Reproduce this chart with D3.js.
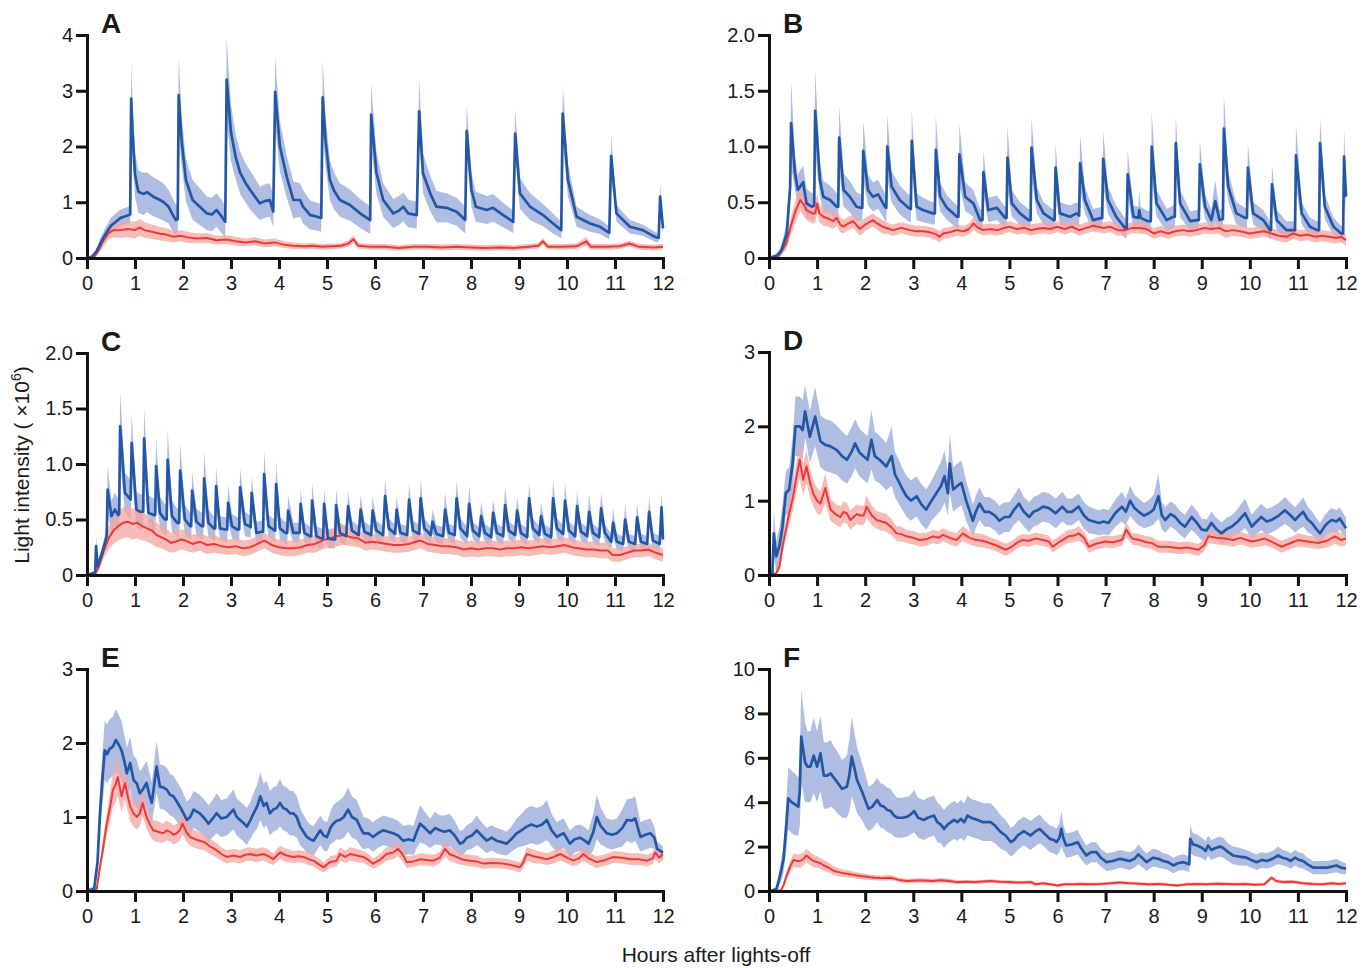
<!DOCTYPE html>
<html><head><meta charset="utf-8">
<script src="https://cdn.jsdelivr.net/npm/d3@7"></script>
<style>
body{margin:0;background:#fff;}
svg{display:block;font-family:"Liberation Sans",Arial,Helvetica,sans-serif;}
</style></head>
<body>
<svg id="chart" width="1369" height="968"></svg>
<script>
// ---------- DATA: [hour, mean, error half-width] ----------
const hours = [0,1,2,3,4,5,6,7,8,9,10,11,12];
const ticksA = [0,1,2,3,4];
const ticksB = [0,0.5,1,1.5,2];
const ticksC = [0,0.5,1,1.5,2];
const ticksD = [0,1,2,3];
const ticksE = [0,1,2,3];
const ticksF = [0,2,4,6,8,10];

const aBlue = [[0,0,0.02],[0.1,0.02,0.03],[0.2,0.12,0.06],[0.3,0.3,0.1],[0.4,0.45,0.12],[0.5,0.58,0.14],[0.6,0.65,0.15],[0.7,0.72,0.15],[0.8,0.75,0.15],[0.9,0.78,0.15],
[0.92,2.86,0.67],[0.95,2.25,0.5],[1.0,1.5,0.4],[1.07,1.19,0.38],[1.17,1.15,0.38],[1.25,1.18,0.36],[1.38,1.1,0.35],[1.5,1.05,0.34],[1.6,1.0,0.33],[1.7,0.92,0.3],[1.77,0.8,0.3],[1.85,0.68,0.28],[1.89,0.7,0.28],
[1.91,2.92,0.69],[1.97,2.12,0.45],[2.06,1.4,0.38],[2.2,1.04,0.36],[2.35,0.92,0.33],[2.5,0.8,0.3],[2.6,0.78,0.3],[2.7,0.86,0.3],[2.8,0.75,0.3],[2.88,0.65,0.28],
[2.91,3.2,0.75],[3.0,2.25,0.5],[3.1,1.8,0.4],[3.19,1.53,0.38],[3.3,1.35,0.35],[3.4,1.22,0.35],[3.5,1.1,0.33],[3.6,0.98,0.3],[3.7,1.02,0.3],[3.81,1.04,0.3],[3.88,0.83,0.28],
[3.92,2.98,0.61],[4.02,2.0,0.45],[4.16,1.46,0.38],[4.3,1.04,0.33],[4.44,1.04,0.3],[4.5,0.92,0.3],[4.65,0.77,0.26],[4.75,0.75,0.25],[4.88,0.72,0.25],
[4.91,2.88,0.65],[4.97,2.1,0.45],[5.06,1.4,0.36],[5.15,1.2,0.33],[5.27,1.04,0.3],[5.48,0.95,0.28],[5.69,0.8,0.26],[5.9,0.68,0.25],
[5.92,2.57,0.56],[6.03,1.53,0.38],[6.17,1.04,0.3],[6.38,0.8,0.26],[6.5,0.85,0.26],[6.59,0.92,0.26],[6.69,0.8,0.25],[6.87,0.77,0.24],
[6.92,2.63,0.57],[7.0,1.52,0.36],[7.15,1.16,0.32],[7.28,0.92,0.28],[7.49,0.9,0.26],[7.7,0.83,0.25],[7.88,0.68,0.24],
[7.91,2.28,0.47],[8.01,1.22,0.3],[8.1,0.92,0.27],[8.33,0.86,0.25],[8.46,0.9,0.25],[8.67,0.77,0.22],[8.88,0.65,0.2],
[8.92,2.23,0.44],[9.02,1.16,0.28],[9.23,0.92,0.24],[9.5,0.77,0.2],[9.71,0.62,0.18],[9.88,0.5,0.15],
[9.91,2.59,0.52],[10.02,1.4,0.3],[10.2,0.74,0.18],[10.48,0.62,0.15],[10.69,0.56,0.13],[10.88,0.45,0.12],
[10.92,1.83,0.36],[11.03,0.8,0.15],[11.31,0.56,0.12],[11.58,0.5,0.1],[11.83,0.38,0.09],[11.91,0.36,0.08],
[11.94,1.1,0.23],[12.0,0.53,0.1]];

const aRed = [[0,0,0.01],[0.15,0.02,0.02],[0.25,0.15,0.06],[0.35,0.32,0.1],[0.45,0.45,0.12],[0.55,0.5,0.13],[0.7,0.5,0.14],[0.85,0.52,0.15],[1.0,0.5,0.15],[1.1,0.55,0.15],[1.2,0.5,0.14],[1.35,0.47,0.13],[1.5,0.44,0.12],[1.65,0.42,0.12],[1.8,0.38,0.1],[1.95,0.4,0.1],[2.1,0.37,0.1],[2.3,0.35,0.09],[2.5,0.36,0.09],[2.7,0.32,0.08],[2.9,0.33,0.08],[3.1,0.3,0.08],[3.3,0.28,0.07],[3.5,0.3,0.07],[3.7,0.26,0.07],[3.9,0.28,0.07],[4.1,0.24,0.06],[4.3,0.22,0.06],[4.5,0.21,0.05],[4.7,0.22,0.05],[4.9,0.2,0.05],[5.1,0.21,0.05],[5.3,0.22,0.05],[5.45,0.26,0.06],[5.55,0.34,0.07],[5.65,0.22,0.05],[5.9,0.2,0.05],[6.2,0.2,0.05],[6.5,0.18,0.05],[6.8,0.2,0.05],[7.1,0.2,0.05],[7.4,0.19,0.05],[7.7,0.2,0.05],[8.0,0.19,0.05],[8.3,0.18,0.05],[8.6,0.19,0.05],[8.9,0.18,0.05],[9.2,0.2,0.05],[9.4,0.22,0.05],[9.5,0.3,0.06],[9.6,0.2,0.05],[9.9,0.2,0.05],[10.2,0.21,0.05],[10.4,0.3,0.08],[10.5,0.2,0.05],[10.8,0.2,0.05],[11.1,0.21,0.05],[11.3,0.26,0.05],[11.5,0.2,0.05],[11.8,0.19,0.05],[12.0,0.2,0.05]];

const bBlue = [[0,0,0.01],[0.16,0.02,0.02],[0.25,0.06,0.04],[0.37,0.22,0.1],[0.44,0.64,0.15],[0.46,1.21,0.38],[0.54,0.76,0.15],[0.6,0.61,0.14],[0.71,0.68,0.15],[0.78,0.49,0.13],[0.89,0.46,0.12],[0.94,0.47,0.12],
[0.96,1.32,0.37],[1.06,0.7,0.15],[1.13,0.55,0.14],[1.27,0.52,0.13],[1.41,0.46,0.12],[1.44,0.46,0.12],
[1.46,1.08,0.29],[1.55,0.61,0.15],[1.68,0.55,0.14],[1.82,0.46,0.13],[1.92,0.45,0.12],[1.94,0.45,0.12],
[1.96,0.96,0.27],[2.06,0.61,0.14],[2.16,0.55,0.13],[2.27,0.57,0.13],[2.41,0.46,0.12],[2.44,0.45,0.12],
[2.46,1.0,0.29],[2.55,0.64,0.14],[2.72,0.52,0.13],[2.9,0.45,0.12],[2.95,0.44,0.12],
[2.97,1.05,0.27],[3.07,0.46,0.12],[3.2,0.43,0.11],[3.41,0.4,0.1],[3.45,0.4,0.1],
[3.47,0.97,0.31],[3.56,0.55,0.13],[3.7,0.45,0.11],[3.91,0.37,0.1],[3.94,0.37,0.1],
[3.96,0.93,0.27],[4.08,0.55,0.13],[4.25,0.49,0.12],[4.39,0.34,0.1],[4.44,0.34,0.1],
[4.46,0.77,0.19],[4.56,0.43,0.11],[4.74,0.45,0.11],[4.91,0.36,0.1],[4.94,0.36,0.1],
[4.96,0.9,0.29],[5.05,0.49,0.12],[5.22,0.4,0.1],[5.4,0.34,0.1],[5.44,0.34,0.1],
[5.46,0.99,0.27],[5.57,0.52,0.12],[5.71,0.4,0.1],[5.92,0.34,0.09],[5.94,0.34,0.09],
[5.96,0.81,0.22],[6.05,0.4,0.1],[6.26,0.37,0.1],[6.4,0.4,0.1],[6.45,0.38,0.1],
[6.47,0.85,0.25],[6.57,0.52,0.12],[6.74,0.34,0.1],[6.92,0.36,0.1],[6.93,0.36,0.1],
[6.95,0.89,0.25],[7.05,0.52,0.12],[7.22,0.37,0.1],[7.4,0.27,0.09],[7.44,0.27,0.09],
[7.46,0.75,0.21],[7.58,0.37,0.1],[7.68,0.36,0.1],[7.7,0.43,0.17],[7.73,0.36,0.1],[7.88,0.33,0.09],[7.94,0.33,0.09],
[7.96,1.0,0.31],[8.06,0.49,0.12],[8.27,0.34,0.1],[8.41,0.37,0.1],[8.44,0.37,0.1],
[8.46,1.03,0.24],[8.55,0.49,0.12],[8.76,0.33,0.09],[8.9,0.34,0.09],[8.94,0.34,0.09],
[8.96,0.84,0.21],[9.07,0.46,0.11],[9.2,0.34,0.09],[9.28,0.51,0.19],[9.37,0.34,0.09],[9.44,0.35,0.09],
[9.46,1.16,0.31],[9.55,0.64,0.13],[9.72,0.4,0.1],[9.9,0.36,0.09],[9.94,0.36,0.09],
[9.96,0.81,0.22],[10.07,0.4,0.1],[10.28,0.34,0.09],[10.42,0.25,0.08],[10.44,0.25,0.08],
[10.46,0.66,0.17],[10.56,0.34,0.09],[10.76,0.25,0.08],[10.9,0.25,0.08],[10.94,0.25,0.08],
[10.96,0.92,0.28],[11.08,0.4,0.1],[11.25,0.28,0.08],[11.4,0.25,0.08],[11.44,0.25,0.08],
[11.46,1.03,0.23],[11.56,0.46,0.11],[11.74,0.28,0.08],[11.9,0.22,0.07],[11.94,0.22,0.07],
[11.96,0.91,0.26],[12.0,0.55,0.12]];

const bRed = [[0,0,0.01],[0.2,0.02,0.02],[0.35,0.12,0.05],[0.45,0.28,0.08],[0.55,0.42,0.1],[0.65,0.52,0.1],[0.72,0.48,0.1],[0.78,0.43,0.09],[0.9,0.4,0.09],[0.96,0.4,0.09],[1.0,0.49,0.09],[1.05,0.4,0.08],[1.13,0.37,0.08],[1.25,0.35,0.07],[1.33,0.33,0.07],[1.41,0.36,0.07],[1.48,0.3,0.07],[1.55,0.28,0.06],[1.65,0.31,0.06],[1.75,0.33,0.06],[1.89,0.26,0.06],[2.0,0.3,0.06],[2.16,0.34,0.06],[2.25,0.31,0.06],[2.37,0.28,0.06],[2.5,0.26,0.05],[2.58,0.25,0.05],[2.75,0.27,0.05],[2.93,0.25,0.05],[3.05,0.24,0.05],[3.2,0.24,0.05],[3.35,0.23,0.05],[3.48,0.21,0.05],[3.55,0.19,0.05],[3.62,0.22,0.05],[3.75,0.23,0.05],[3.9,0.25,0.05],[4.05,0.24,0.05],[4.16,0.26,0.05],[4.25,0.31,0.06],[4.35,0.27,0.05],[4.46,0.25,0.05],[4.6,0.26,0.05],[4.75,0.25,0.05],[4.9,0.27,0.05],[5.0,0.28,0.05],[5.15,0.26,0.05],[5.3,0.27,0.05],[5.45,0.25,0.05],[5.55,0.26,0.05],[5.7,0.27,0.05],[5.85,0.26,0.05],[6.0,0.28,0.05],[6.15,0.26,0.05],[6.3,0.28,0.05],[6.45,0.25,0.05],[6.6,0.27,0.05],[6.75,0.29,0.05],[6.95,0.27,0.05],[7.1,0.28,0.05],[7.25,0.25,0.05],[7.4,0.25,0.05],[7.55,0.27,0.05],[7.7,0.27,0.05],[7.85,0.26,0.05],[8.0,0.22,0.05],[8.15,0.24,0.05],[8.3,0.22,0.05],[8.45,0.24,0.05],[8.6,0.25,0.05],[8.75,0.24,0.05],[8.9,0.25,0.05],[9.05,0.27,0.05],[9.2,0.26,0.05],[9.35,0.27,0.05],[9.5,0.24,0.06],[9.65,0.25,0.05],[9.8,0.24,0.05],[10.0,0.22,0.05],[10.15,0.23,0.05],[10.3,0.24,0.05],[10.45,0.22,0.05],[10.6,0.2,0.05],[10.76,0.19,0.05],[10.9,0.22,0.05],[11.05,0.2,0.05],[11.2,0.21,0.05],[11.35,0.19,0.05],[11.5,0.2,0.05],[11.65,0.19,0.05],[11.8,0.18,0.05],[11.9,0.19,0.05],[12.0,0.16,0.05]];

const cBlue = [[0,0,0.01],[0.17,0.02,0.02],[0.19,0.26,0.1],[0.22,0.08,0.03],[0.3,0.18,0.05],[0.38,0.3,0.07],[0.41,0.35,0.08],
[0.43,0.77,0.21],[0.51,0.53,0.14],[0.58,0.59,0.15],[0.65,0.54,0.15],[0.67,0.55,0.15],
[0.69,1.34,0.31],[0.79,0.74,0.18],[0.85,0.71,0.18],[0.91,0.68,0.17],
[0.93,1.19,0.27],[1.03,0.59,0.16],[1.1,0.57,0.16],[1.17,0.57,0.16],
[1.19,1.23,0.27],[1.28,0.56,0.16],[1.39,0.54,0.15],[1.42,0.54,0.15],
[1.44,0.98,0.25],[1.52,0.56,0.15],[1.62,0.5,0.14],[1.66,0.5,0.14],
[1.68,1.04,0.27],[1.77,0.53,0.14],[1.88,0.47,0.13],[1.92,0.47,0.13],
[1.94,0.94,0.25],[2.04,0.5,0.13],[2.15,0.44,0.12],[2.17,0.44,0.12],
[2.19,0.76,0.17],[2.28,0.48,0.12],[2.39,0.44,0.12],[2.42,0.44,0.12],
[2.44,0.87,0.24],[2.53,0.47,0.12],[2.64,0.42,0.11],[2.67,0.42,0.11],
[2.69,0.8,0.18],[2.77,0.42,0.11],[2.88,0.41,0.11],[2.92,0.41,0.11],
[2.94,0.65,0.16],[3.02,0.44,0.11],[3.13,0.41,0.11],[3.17,0.41,0.1],
[3.19,0.79,0.17],[3.29,0.46,0.11],[3.38,0.44,0.1],[3.41,0.43,0.1],
[3.43,0.74,0.15],[3.53,0.38,0.1],[3.64,0.39,0.1],[3.67,0.39,0.1],
[3.69,0.91,0.21],[3.78,0.44,0.1],[3.88,0.41,0.1],[3.92,0.4,0.1],
[3.94,0.82,0.2],[4.02,0.42,0.1],[4.13,0.38,0.1],[4.17,0.38,0.1],
[4.19,0.58,0.14],[4.3,0.38,0.09],[4.4,0.38,0.09],[4.43,0.38,0.09],
[4.45,0.64,0.13],[4.53,0.38,0.09],[4.64,0.35,0.09],[4.67,0.35,0.09],
[4.69,0.67,0.16],[4.78,0.35,0.09],[4.88,0.33,0.09],[4.92,0.33,0.09],
[4.94,0.64,0.13],[5.02,0.33,0.09],[5.13,0.32,0.08],[5.17,0.32,0.08],
[5.19,0.63,0.14],[5.27,0.38,0.09],[5.4,0.35,0.08],
[5.44,0.62,0.13],[5.52,0.4,0.09],[5.66,0.36,0.08],
[5.7,0.59,0.13],[5.78,0.39,0.09],[5.92,0.36,0.08],
[5.95,0.58,0.13],[6.03,0.4,0.09],[6.17,0.36,0.08],
[6.21,0.71,0.15],[6.29,0.42,0.09],[6.42,0.37,0.08],
[6.45,0.59,0.12],[6.53,0.38,0.08],[6.67,0.36,0.08],
[6.71,0.68,0.15],[6.79,0.4,0.09],[6.92,0.37,0.08],
[6.95,0.69,0.17],[7.03,0.42,0.09],[7.16,0.36,0.08],
[7.2,0.48,0.11],[7.28,0.37,0.08],[7.42,0.35,0.08],
[7.46,0.59,0.15],[7.54,0.38,0.08],[7.66,0.36,0.08],
[7.7,0.69,0.16],[7.78,0.42,0.09],[7.92,0.35,0.08],
[7.96,0.64,0.16],[8.04,0.4,0.08],[8.17,0.35,0.08],
[8.21,0.53,0.13],[8.29,0.38,0.08],[8.42,0.34,0.08],
[8.46,0.56,0.12],[8.54,0.38,0.08],[8.67,0.35,0.08],
[8.71,0.63,0.16],[8.79,0.4,0.08],[8.92,0.36,0.08],
[8.96,0.58,0.13],[9.04,0.38,0.08],[9.17,0.34,0.08],
[9.21,0.69,0.14],[9.29,0.42,0.09],[9.42,0.36,0.08],
[9.46,0.53,0.12],[9.54,0.37,0.08],[9.67,0.34,0.08],
[9.71,0.69,0.16],[9.79,0.42,0.09],[9.92,0.37,0.08],
[9.96,0.67,0.15],[10.04,0.4,0.08],[10.17,0.35,0.08],
[10.21,0.62,0.14],[10.29,0.39,0.08],[10.42,0.35,0.08],
[10.46,0.57,0.15],[10.54,0.38,0.08],[10.67,0.34,0.08],
[10.71,0.6,0.14],[10.79,0.38,0.08],[10.92,0.3,0.07],
[10.96,0.47,0.13],[11.04,0.3,0.07],[11.17,0.28,0.07],
[11.21,0.5,0.13],[11.29,0.3,0.07],[11.42,0.28,0.07],
[11.46,0.52,0.12],[11.54,0.3,0.07],[11.67,0.28,0.07],
[11.71,0.57,0.14],[11.79,0.31,0.07],[11.93,0.28,0.07],
[11.97,0.61,0.14],[12.0,0.32,0.08]];

const cRed = [[0,0,0.01],[0.18,0.02,0.02],[0.25,0.08,0.04],[0.35,0.22,0.07],[0.45,0.33,0.1],[0.55,0.4,0.12],[0.65,0.44,0.13],[0.75,0.47,0.14],[0.85,0.48,0.14],[0.95,0.46,0.14],[1.05,0.47,0.14],[1.15,0.44,0.13],[1.25,0.42,0.12],[1.35,0.4,0.12],[1.45,0.36,0.11],[1.55,0.34,0.1],[1.65,0.32,0.1],[1.75,0.29,0.09],[1.85,0.3,0.09],[1.95,0.32,0.09],[2.05,0.31,0.09],[2.2,0.28,0.08],[2.35,0.3,0.08],[2.5,0.27,0.08],[2.65,0.28,0.08],[2.8,0.26,0.07],[2.95,0.25,0.07],[3.1,0.26,0.07],[3.25,0.24,0.07],[3.4,0.25,0.07],[3.55,0.28,0.07],[3.7,0.31,0.07],[3.85,0.27,0.07],[4.0,0.25,0.07],[4.15,0.24,0.07],[4.3,0.24,0.07],[4.45,0.25,0.07],[4.6,0.27,0.07],[4.75,0.28,0.08],[4.9,0.31,0.08],[5.05,0.33,0.08],[5.2,0.35,0.09],[5.35,0.36,0.09],[5.5,0.34,0.08],[5.65,0.33,0.08],[5.8,0.29,0.07],[5.95,0.3,0.07],[6.1,0.29,0.07],[6.25,0.28,0.07],[6.4,0.27,0.07],[6.55,0.27,0.07],[6.7,0.28,0.07],[6.85,0.3,0.07],[6.95,0.31,0.07],[7.1,0.28,0.07],[7.25,0.27,0.07],[7.4,0.26,0.07],[7.55,0.26,0.07],[7.7,0.25,0.07],[7.85,0.23,0.07],[8.0,0.24,0.07],[8.15,0.23,0.07],[8.3,0.24,0.07],[8.45,0.24,0.07],[8.6,0.23,0.07],[8.75,0.24,0.07],[8.9,0.24,0.07],[9.05,0.25,0.07],[9.2,0.24,0.07],[9.35,0.25,0.07],[9.5,0.26,0.07],[9.65,0.25,0.07],[9.8,0.26,0.07],[9.95,0.27,0.07],[10.1,0.25,0.07],[10.25,0.24,0.07],[10.4,0.23,0.07],[10.55,0.23,0.07],[10.7,0.22,0.07],[10.85,0.22,0.07],[10.95,0.18,0.06],[11.1,0.18,0.06],[11.25,0.2,0.06],[11.4,0.22,0.06],[11.55,0.22,0.06],[11.7,0.23,0.06],[11.85,0.2,0.06],[12.0,0.18,0.06]];

const dBlue = [[0,0,0.02],[0.07,0.02,0.05],[0.1,0.56,0.3],[0.15,0.25,0.2],[0.22,0.4,0.25],[0.28,0.65,0.3],[0.35,1.1,0.3],[0.42,1.15,0.3],[0.49,1.5,0.35],[0.55,2.0,0.4],[0.64,2.0,0.4],[0.7,1.95,0.4],[0.75,2.2,0.35],[0.85,1.86,0.35],[0.96,2.13,0.4],[1.07,1.8,0.35],[1.17,1.75,0.35],[1.28,1.73,0.35],[1.41,1.68,0.33],[1.52,1.6,0.33],[1.62,1.55,0.32],[1.72,1.66,0.33],[1.79,1.77,0.33],[1.88,1.65,0.32],[1.96,1.6,0.32],[2.05,1.55,0.32],[2.13,1.82,0.4],[2.2,1.6,0.33],[2.3,1.55,0.32],[2.44,1.46,0.32],[2.55,1.6,0.4],[2.62,1.35,0.3],[2.68,1.28,0.3],[2.78,1.15,0.28],[2.86,1.06,0.28],[2.95,1.0,0.27],[3.07,1.06,0.27],[3.17,0.95,0.27],[3.27,0.88,0.27],[3.38,1.0,0.27],[3.48,1.1,0.3],[3.58,1.2,0.33],[3.65,1.33,0.35],[3.72,1.1,0.3],[3.76,1.5,0.4],[3.83,1.15,0.3],[3.92,1.2,0.3],[4.0,1.24,0.3],[4.1,1.0,0.27],[4.24,0.73,0.22],[4.3,0.85,0.22],[4.38,0.96,0.22],[4.48,0.85,0.2],[4.58,0.85,0.2],[4.7,0.8,0.2],[4.79,0.73,0.2],[4.9,0.78,0.2],[5.0,0.78,0.2],[5.1,0.88,0.2],[5.2,0.96,0.22],[5.3,0.85,0.2],[5.41,0.78,0.2],[5.5,0.85,0.2],[5.58,0.87,0.2],[5.7,0.92,0.2],[5.82,0.9,0.2],[5.96,0.83,0.2],[6.1,0.92,0.2],[6.2,0.85,0.18],[6.3,0.85,0.18],[6.44,0.92,0.18],[6.55,0.8,0.18],[6.65,0.74,0.18],[6.76,0.72,0.17],[6.86,0.7,0.17],[6.96,0.72,0.17],[7.06,0.7,0.17],[7.2,0.83,0.18],[7.34,0.92,0.2],[7.42,0.85,0.18],[7.51,1.0,0.2],[7.6,0.9,0.18],[7.69,0.85,0.18],[7.8,0.8,0.17],[7.9,0.83,0.18],[8.0,0.88,0.2],[8.1,1.06,0.3],[8.17,0.8,0.18],[8.24,0.74,0.17],[8.35,0.82,0.17],[8.45,0.78,0.17],[8.55,0.7,0.16],[8.65,0.65,0.16],[8.79,0.78,0.17],[8.9,0.7,0.16],[9.0,0.61,0.15],[9.1,0.6,0.15],[9.2,0.7,0.15],[9.3,0.62,0.15],[9.41,0.56,0.15],[9.52,0.62,0.15],[9.62,0.65,0.15],[9.75,0.72,0.17],[9.9,0.83,0.2],[10.04,0.65,0.16],[10.14,0.72,0.17],[10.24,0.78,0.18],[10.35,0.72,0.17],[10.45,0.74,0.17],[10.6,0.8,0.17],[10.73,0.87,0.18],[10.85,0.8,0.17],[10.94,0.74,0.17],[11.03,0.8,0.18],[11.11,0.85,0.2],[11.2,0.75,0.17],[11.29,0.7,0.16],[11.38,0.62,0.15],[11.46,0.56,0.14],[11.55,0.65,0.15],[11.62,0.7,0.15],[11.7,0.74,0.16],[11.8,0.72,0.15],[11.87,0.76,0.15],[12.0,0.63,0.14]];

const dRed = [[0,0,0.01],[0.15,0.02,0.02],[0.22,0.12,0.06],[0.28,0.38,0.1],[0.35,0.6,0.12],[0.42,0.83,0.15],[0.5,1.05,0.18],[0.56,1.28,0.2],[0.64,1.55,0.25],[0.71,1.28,0.22],[0.78,1.46,0.22],[0.85,1.25,0.2],[0.92,1.1,0.18],[1.0,1.0,0.17],[1.07,0.96,0.16],[1.17,1.17,0.2],[1.28,0.88,0.15],[1.38,0.82,0.14],[1.48,0.78,0.14],[1.55,0.85,0.14],[1.62,0.83,0.14],[1.69,0.74,0.13],[1.76,0.78,0.13],[1.83,0.82,0.13],[1.9,0.8,0.13],[1.97,0.8,0.13],[2.03,0.92,0.15],[2.14,0.8,0.13],[2.24,0.74,0.12],[2.34,0.72,0.12],[2.44,0.7,0.12],[2.55,0.64,0.11],[2.65,0.56,0.1],[2.75,0.55,0.1],[2.86,0.52,0.09],[3.0,0.5,0.09],[3.13,0.47,0.09],[3.27,0.48,0.09],[3.41,0.52,0.09],[3.52,0.5,0.09],[3.62,0.54,0.09],[3.76,0.5,0.09],[3.9,0.47,0.09],[4.03,0.56,0.1],[4.17,0.5,0.09],[4.31,0.47,0.09],[4.45,0.46,0.09],[4.58,0.43,0.08],[4.72,0.4,0.08],[4.85,0.36,0.08],[4.93,0.34,0.08],[5.05,0.38,0.08],[5.17,0.44,0.08],[5.27,0.47,0.08],[5.4,0.46,0.08],[5.55,0.49,0.08],[5.7,0.47,0.08],[5.82,0.45,0.08],[5.9,0.38,0.08],[6.05,0.45,0.08],[6.23,0.52,0.09],[6.35,0.53,0.09],[6.44,0.56,0.1],[6.55,0.5,0.09],[6.65,0.38,0.08],[6.8,0.42,0.08],[6.99,0.45,0.08],[7.15,0.44,0.08],[7.34,0.47,0.08],[7.43,0.61,0.1],[7.55,0.49,0.08],[7.7,0.47,0.08],[7.85,0.44,0.08],[7.96,0.43,0.08],[8.1,0.38,0.08],[8.3,0.38,0.08],[8.52,0.36,0.08],[8.7,0.37,0.08],[8.93,0.34,0.08],[9.05,0.4,0.08],[9.14,0.52,0.09],[9.3,0.5,0.09],[9.48,0.49,0.09],[9.65,0.47,0.09],[9.8,0.5,0.09],[10.04,0.45,0.08],[10.2,0.47,0.09],[10.31,0.49,0.09],[10.45,0.45,0.08],[10.66,0.38,0.08],[10.85,0.43,0.08],[11.0,0.47,0.09],[11.2,0.45,0.08],[11.42,0.43,0.08],[11.6,0.46,0.09],[11.77,0.52,0.1],[11.9,0.47,0.09],[12.0,0.49,0.09]];

const eBlue = [[0,0,0.02],[0.15,0.03,0.04],[0.22,0.4,0.15],[0.27,1.05,0.3],[0.32,1.5,0.35],[0.37,1.9,0.4],[0.42,1.85,0.4],[0.47,1.92,0.4],[0.54,1.95,0.4],[0.6,2.04,0.42],[0.66,1.98,0.4],[0.72,1.9,0.4],[0.78,1.75,0.35],[0.83,1.59,0.35],[0.9,1.73,0.35],[0.97,1.5,0.33],[1.04,1.45,0.32],[1.1,1.32,0.3],[1.17,1.38,0.3],[1.24,1.46,0.3],[1.3,1.3,0.3],[1.35,1.19,0.28],[1.45,1.68,0.35],[1.52,1.41,0.3],[1.59,1.4,0.3],[1.66,1.37,0.3],[1.73,1.3,0.28],[1.8,1.28,0.28],[1.88,1.2,0.27],[1.97,1.1,0.27],[2.08,0.96,0.25],[2.15,1.0,0.25],[2.22,1.1,0.25],[2.35,1.05,0.25],[2.45,0.98,0.25],[2.53,0.91,0.25],[2.62,0.98,0.25],[2.7,1.05,0.27],[2.8,0.98,0.25],[2.91,1.0,0.25],[3.05,1.1,0.27],[3.12,1.0,0.25],[3.19,0.96,0.25],[3.26,0.92,0.25],[3.33,0.87,0.25],[3.4,0.95,0.25],[3.47,1.05,0.27],[3.55,1.15,0.3],[3.61,1.28,0.32],[3.68,1.15,0.3],[3.74,1.19,0.3],[3.81,1.05,0.3],[3.88,1.1,0.3],[3.95,1.12,0.3],[4.02,1.19,0.32],[4.09,1.12,0.3],[4.16,1.1,0.3],[4.23,1.05,0.3],[4.3,1.05,0.3],[4.37,1.0,0.28],[4.44,0.87,0.25],[4.51,0.8,0.23],[4.58,0.73,0.22],[4.65,0.7,0.2],[4.72,0.68,0.2],[4.79,0.75,0.2],[4.86,0.82,0.2],[4.93,0.75,0.2],[5.0,0.73,0.2],[5.07,0.85,0.22],[5.13,0.91,0.25],[5.2,0.95,0.25],[5.27,0.96,0.27],[5.35,1.0,0.28],[5.44,1.1,0.3],[5.52,1.0,0.28],[5.62,0.96,0.27],[5.7,0.85,0.25],[5.76,0.78,0.22],[5.86,0.78,0.2],[5.96,0.73,0.2],[6.06,0.78,0.2],[6.17,0.82,0.2],[6.27,0.8,0.2],[6.38,0.78,0.2],[6.48,0.75,0.2],[6.59,0.68,0.2],[6.7,0.7,0.2],[6.8,0.68,0.2],[6.87,0.8,0.22],[6.94,0.91,0.25],[7.04,0.85,0.22],[7.15,0.78,0.2],[7.25,0.85,0.22],[7.35,0.82,0.2],[7.45,0.8,0.22],[7.56,0.82,0.22],[7.66,0.75,0.2],[7.77,0.64,0.17],[7.84,0.66,0.17],[7.91,0.72,0.17],[8.02,0.75,0.18],[8.12,0.82,0.2],[8.22,0.75,0.18],[8.33,0.68,0.17],[8.43,0.72,0.17],[8.53,0.68,0.17],[8.64,0.66,0.17],[8.74,0.64,0.16],[8.84,0.7,0.17],[8.95,0.78,0.2],[9.05,0.82,0.22],[9.16,0.87,0.25],[9.26,0.9,0.25],[9.37,0.87,0.25],[9.48,0.9,0.25],[9.58,0.96,0.27],[9.68,0.82,0.22],[9.79,0.73,0.2],[9.86,0.76,0.2],[9.93,0.78,0.2],[10.06,0.64,0.18],[10.16,0.7,0.18],[10.27,0.72,0.18],[10.37,0.68,0.18],[10.45,0.64,0.18],[10.55,0.8,0.25],[10.62,1.0,0.3],[10.7,0.88,0.25],[10.83,0.78,0.2],[10.94,0.76,0.2],[11.04,0.78,0.2],[11.15,0.85,0.25],[11.25,0.96,0.28],[11.35,0.95,0.3],[11.42,0.98,0.3],[11.53,0.73,0.2],[11.63,0.76,0.2],[11.74,0.78,0.2],[11.82,0.72,0.15],[11.88,0.57,0.1],[12.0,0.52,0.08]];

const eRed = [[0,0,0.01],[0.2,0.02,0.02],[0.27,0.33,0.08],[0.34,0.6,0.12],[0.4,0.87,0.15],[0.47,1.1,0.2],[0.54,1.36,0.22],[0.6,1.45,0.25],[0.64,1.54,0.25],[0.72,1.28,0.22],[0.79,1.46,0.22],[0.85,1.28,0.2],[0.9,1.14,0.2],[0.97,1.05,0.18],[1.04,1.0,0.17],[1.1,1.05,0.17],[1.16,1.19,0.18],[1.24,1.0,0.16],[1.31,0.9,0.15],[1.38,0.82,0.14],[1.48,0.8,0.14],[1.59,0.78,0.13],[1.66,0.82,0.13],[1.73,0.8,0.13],[1.8,0.76,0.13],[1.87,0.78,0.13],[1.93,0.82,0.14],[1.99,0.91,0.15],[2.07,0.8,0.13],[2.15,0.73,0.12],[2.25,0.7,0.12],[2.35,0.68,0.12],[2.45,0.66,0.11],[2.56,0.6,0.1],[2.63,0.58,0.1],[2.7,0.55,0.1],[2.8,0.5,0.09],[2.91,0.46,0.09],[3.05,0.48,0.09],[3.19,0.46,0.09],[3.3,0.49,0.09],[3.4,0.5,0.09],[3.53,0.48,0.09],[3.67,0.5,0.09],[3.78,0.47,0.09],[3.88,0.43,0.08],[4.02,0.52,0.09],[4.16,0.48,0.09],[4.3,0.46,0.08],[4.4,0.47,0.08],[4.51,0.46,0.08],[4.62,0.43,0.08],[4.72,0.41,0.08],[4.83,0.36,0.08],[4.93,0.32,0.07],[5.06,0.39,0.08],[5.2,0.41,0.08],[5.27,0.5,0.09],[5.38,0.46,0.08],[5.48,0.5,0.09],[5.62,0.48,0.09],[5.76,0.46,0.08],[5.86,0.42,0.08],[5.96,0.37,0.07],[6.1,0.42,0.08],[6.24,0.5,0.09],[6.38,0.52,0.09],[6.48,0.57,0.1],[6.57,0.5,0.1],[6.66,0.39,0.08],[6.8,0.4,0.08],[6.94,0.43,0.08],[7.08,0.42,0.08],[7.22,0.41,0.08],[7.35,0.45,0.08],[7.46,0.57,0.1],[7.55,0.5,0.09],[7.63,0.48,0.09],[7.8,0.43,0.08],[7.98,0.41,0.08],[8.12,0.4,0.08],[8.26,0.37,0.07],[8.45,0.38,0.07],[8.67,0.37,0.07],[8.85,0.35,0.07],[9.02,0.32,0.07],[9.1,0.4,0.08],[9.16,0.5,0.09],[9.3,0.47,0.09],[9.45,0.45,0.08],[9.58,0.43,0.08],[9.72,0.46,0.09],[9.86,0.5,0.09],[10.0,0.45,0.08],[10.13,0.41,0.08],[10.25,0.44,0.08],[10.34,0.5,0.09],[10.45,0.44,0.08],[10.62,0.39,0.08],[10.8,0.42,0.08],[10.97,0.46,0.08],[11.15,0.45,0.08],[11.32,0.43,0.08],[11.5,0.43,0.08],[11.67,0.41,0.08],[11.78,0.44,0.08],[11.84,0.52,0.09],[11.92,0.45,0.08],[12.0,0.5,0.08]];

const fBlue = [[0,0,0.05],[0.12,0.05,0.1],[0.16,0.12,0.15],[0.23,0.7,0.4],[0.3,1.4,0.6],[0.37,3.2,1.2],[0.4,4.17,1.4],[0.47,4.0,1.4],[0.54,3.9,1.4],[0.61,3.8,1.3],[0.64,4.5,1.6],[0.67,6.95,2.1],[0.75,5.8,1.8],[0.8,5.6,1.6],[0.86,5.6,1.6],[0.93,6.1,1.7],[1.0,5.6,1.6],[1.07,6.2,1.7],[1.14,5.2,1.5],[1.21,5.2,1.5],[1.28,5.3,1.5],[1.35,5.1,1.4],[1.42,4.9,1.4],[1.52,4.6,1.3],[1.62,4.7,1.4],[1.67,5.2,1.6],[1.72,6.05,1.8],[1.78,5.5,1.6],[1.83,5.0,1.5],[1.93,4.5,1.3],[2.0,4.1,1.2],[2.07,3.7,1.0],[2.15,3.8,1.0],[2.25,4.1,1.0],[2.32,3.85,1.0],[2.39,3.8,1.0],[2.46,3.65,1.0],[2.53,3.6,1.0],[2.6,3.4,0.95],[2.67,3.3,0.9],[2.78,3.3,0.9],[2.88,3.35,0.9],[2.95,3.45,0.9],[3.02,3.6,0.95],[3.1,3.3,0.9],[3.22,3.2,0.9],[3.3,3.3,0.9],[3.43,3.4,0.9],[3.5,3.1,0.9],[3.57,3.0,0.85],[3.64,2.8,0.85],[3.72,3.0,0.85],[3.85,3.2,0.85],[3.92,3.1,0.85],[3.99,3.25,0.85],[4.06,3.1,0.85],[4.13,3.4,0.9],[4.2,3.3,0.85],[4.27,3.25,0.85],[4.34,3.2,0.85],[4.45,3.1,0.85],[4.61,3.1,0.85],[4.7,2.95,0.8],[4.82,2.65,0.75],[4.92,2.5,0.7],[5.03,2.2,0.65],[5.1,2.3,0.65],[5.17,2.5,0.65],[5.3,2.7,0.65],[5.37,2.6,0.65],[5.44,2.5,0.65],[5.55,2.7,0.65],[5.63,2.8,0.65],[5.72,2.6,0.6],[5.84,2.35,0.6],[5.92,2.3,0.6],[5.98,2.2,0.6],[6.04,2.4,0.65],[6.08,2.8,0.8],[6.12,2.4,0.6],[6.18,2.05,0.55],[6.3,2.1,0.55],[6.42,2.2,0.55],[6.5,1.9,0.5],[6.6,1.6,0.45],[6.7,1.75,0.45],[6.81,1.75,0.45],[6.9,1.5,0.4],[7.02,1.3,0.4],[7.15,1.35,0.4],[7.3,1.45,0.4],[7.4,1.4,0.4],[7.5,1.35,0.4],[7.6,1.45,0.4],[7.68,1.65,0.45],[7.78,1.45,0.4],[7.85,1.3,0.4],[7.92,1.4,0.4],[7.99,1.5,0.4],[8.1,1.45,0.4],[8.2,1.35,0.35],[8.3,1.3,0.35],[8.41,1.15,0.35],[8.5,1.25,0.35],[8.62,1.3,0.35],[8.74,1.2,0.35],[8.76,2.35,0.6],[8.82,2.1,0.5],[8.9,2.05,0.5],[9.0,1.95,0.45],[9.08,1.8,0.45],[9.13,2.05,0.45],[9.2,1.85,0.45],[9.3,1.95,0.45],[9.38,2.0,0.45],[9.44,1.95,0.45],[9.55,1.75,0.4],[9.65,1.6,0.4],[9.78,1.55,0.4],[9.93,1.5,0.35],[10.03,1.4,0.35],[10.14,1.3,0.35],[10.25,1.4,0.35],[10.35,1.35,0.35],[10.47,1.45,0.35],[10.59,1.6,0.4],[10.68,1.5,0.35],[10.77,1.45,0.35],[10.85,1.35,0.35],[10.94,1.5,0.35],[11.02,1.4,0.35],[11.11,1.35,0.35],[11.2,1.2,0.3],[11.32,1.05,0.3],[11.45,1.05,0.3],[11.6,1.05,0.3],[11.7,1.1,0.3],[11.8,1.15,0.3],[11.9,1.05,0.28],[12.0,1.0,0.25]];

const fRed = [[0,0,0.02],[0.25,0.03,0.04],[0.31,0.3,0.1],[0.37,0.72,0.2],[0.44,1.1,0.25],[0.51,1.4,0.3],[0.58,1.35,0.3],[0.65,1.35,0.3],[0.72,1.45,0.3],[0.78,1.6,0.3],[0.86,1.45,0.3],[0.93,1.35,0.28],[1.0,1.3,0.27],[1.07,1.25,0.25],[1.14,1.15,0.25],[1.24,1.05,0.22],[1.35,0.9,0.2],[1.45,0.85,0.18],[1.55,0.8,0.17],[1.7,0.75,0.15],[1.83,0.7,0.15],[2.0,0.65,0.13],[2.18,0.6,0.12],[2.35,0.58,0.12],[2.53,0.6,0.12],[2.7,0.5,0.1],[2.88,0.45,0.1],[3.05,0.47,0.1],[3.22,0.47,0.1],[3.4,0.45,0.1],[3.57,0.48,0.1],[3.75,0.45,0.1],[3.92,0.4,0.08],[4.1,0.42,0.08],[4.3,0.4,0.08],[4.45,0.43,0.08],[4.61,0.45,0.08],[4.8,0.42,0.08],[5.0,0.4,0.08],[5.15,0.38,0.08],[5.3,0.38,0.08],[5.45,0.4,0.08],[5.55,0.3,0.07],[5.7,0.35,0.07],[5.85,0.3,0.07],[6.0,0.25,0.06],[6.15,0.3,0.07],[6.3,0.3,0.07],[6.5,0.32,0.07],[6.7,0.3,0.07],[6.9,0.32,0.07],[7.1,0.35,0.07],[7.3,0.38,0.07],[7.5,0.35,0.07],[7.7,0.33,0.07],[7.9,0.3,0.07],[8.1,0.32,0.07],[8.3,0.28,0.07],[8.5,0.25,0.06],[8.7,0.3,0.07],[8.9,0.32,0.07],[9.1,0.3,0.07],[9.3,0.33,0.07],[9.5,0.32,0.07],[9.7,0.3,0.07],[9.9,0.32,0.07],[10.1,0.28,0.07],[10.3,0.3,0.07],[10.4,0.5,0.1],[10.45,0.6,0.1],[10.55,0.45,0.08],[10.7,0.4,0.08],[10.9,0.42,0.08],[11.1,0.35,0.07],[11.3,0.32,0.07],[11.5,0.3,0.07],[11.7,0.35,0.07],[11.85,0.32,0.07],[12.0,0.35,0.07]];

// ---------- LAYOUT ----------
const panels = [
  {label:"A", blue:aBlue, red:aRed, yMax:4,  ticks:ticksA, fmt:"int", x0:87,  x1:663,  yb:258, yt:35},
  {label:"B", blue:bBlue, red:bRed, yMax:2,  ticks:ticksB, fmt:"dec", x0:769, x1:1346, yb:258, yt:35},
  {label:"C", blue:cBlue, red:cRed, yMax:2,  ticks:ticksC, fmt:"dec", x0:87,  x1:663,  yb:575, yt:353},
  {label:"D", blue:dBlue, red:dRed, yMax:3,  ticks:ticksD, fmt:"int", x0:769, x1:1346, yb:575, yt:352},
  {label:"E", blue:eBlue, red:eRed, yMax:3,  ticks:ticksE, fmt:"int", x0:87,  x1:663,  yb:891, yt:669},
  {label:"F", blue:fBlue, red:fRed, yMax:10, ticks:ticksF, fmt:"int", x0:769, x1:1346, yb:891, yt:669}
];

const BLUE = "#2357a6", BLUE_BAND = "#a2b2de";
const RED = "#ec3a3a", RED_BAND = "#f5a5a0";
const FONT = "'Liberation Sans', Arial, Helvetica, sans-serif";

const svg = d3.select("#chart");

panels.forEach(p => {
  const x = d3.scaleLinear().domain([0, 12]).range([p.x0, p.x1]);
  const y = d3.scaleLinear().domain([0, p.yMax]).range([p.yb, p.yt]);
  const g = svg.append("g");

  const band = d3.area()
    .x(d => x(d[0]))
    .y0(d => y(Math.max(0, d[1] - d[2])))
    .y1(d => y(d[1] + d[2]));
  const line = d3.line().x(d => x(d[0])).y(d => y(d[1]));

  g.append("path").attr("d", band(p.blue)).attr("fill", BLUE_BAND).attr("opacity", 0.85);
  g.append("path").attr("d", band(p.red)).attr("fill", RED_BAND).attr("opacity", 0.75);
  g.append("path").attr("d", line(p.red)).attr("fill", "none").attr("stroke", RED)
    .attr("stroke-width", 2).attr("stroke-linejoin", "round");
  g.append("path").attr("d", line(p.blue)).attr("fill", "none").attr("stroke", BLUE)
    .attr("stroke-width", 2.7).attr("stroke-linejoin", "round");

  const fmt = p.fmt === "dec" ? (d => d === 0 ? "0" : d3.format(".1f")(d)) : d3.format("d");

  const xa = g.append("g").attr("transform", `translate(0,${p.yb})`)
    .call(d3.axisBottom(x).tickValues(hours).tickSize(11).tickSizeOuter(0).tickPadding(7).tickFormat(d3.format("d")));
  const ya = g.append("g").attr("transform", `translate(${p.x0},0)`)
    .call(d3.axisLeft(y).tickValues(p.ticks).tickSize(11).tickSizeOuter(0).tickPadding(3).tickFormat(fmt));

  [xa, ya].forEach(a => {
    a.select(".domain").attr("stroke", "#111").attr("stroke-width", 3).attr("stroke-linecap", "square");
    a.selectAll(".tick line").attr("stroke", "#111").attr("stroke-width", 3);
    a.selectAll(".tick text").attr("fill", "#1a1a1a").style("font-size", "20px").style("font-family", FONT);
  });

  g.append("text").attr("x", p.x0 + 14).attr("y", p.yt - 2)
    .attr("font-size", 28).attr("font-weight", "bold").attr("font-family", FONT)
    .attr("fill", "#1a1a1a").text(p.label);
});

// axis titles
const yl = svg.append("text")
  .attr("transform", "translate(29,465) rotate(-90)")
  .attr("text-anchor", "middle")
  .attr("font-size", 21).attr("font-family", FONT).attr("fill", "#1a1a1a");
yl.append("tspan").text("Light intensity ( \u00D710");
yl.append("tspan").attr("dy", -8).attr("font-size", 14).text("6");
yl.append("tspan").attr("dy", 8).text(")");

svg.append("text").attr("x", 716).attr("y", 962).attr("text-anchor", "middle")
  .attr("font-size", 21).attr("font-family", FONT).attr("fill", "#1a1a1a")
  .text("Hours after lights-off");
</script>
</body></html>
